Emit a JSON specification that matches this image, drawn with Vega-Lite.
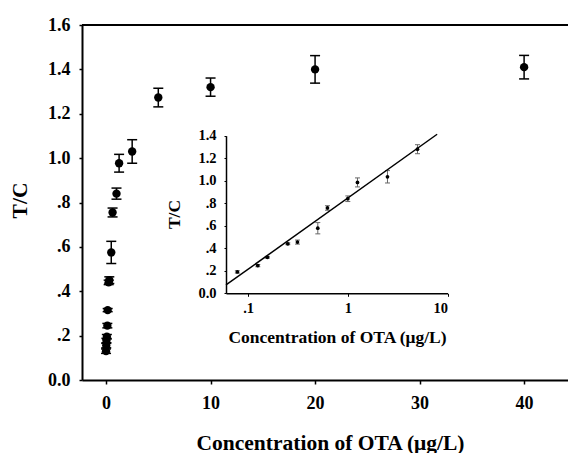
{
  "$schema": "https://vega.github.io/schema/vega-lite/v6.json",
  "width": 486,
  "height": 355,
  "autosize": {"type": "none"},
  "padding": {"left": 82, "top": 25, "right": 0, "bottom": 73},
  "background": "white",
  "config": {
    "view": {"stroke": null},
    "font": "Liberation Serif",
    "axis": {"grid": false, "domainColor": "black", "tickColor": "black", "labelColor": "black", "titleColor": "black", "labelFontWeight": "bold", "titleFontWeight": "bold", "labelFont": "Liberation Serif", "titleFont": "Liberation Serif"}
  },
  "datasets": {
    "main": [
      {"conc": 0, "tc": 0.13, "lo": 0.12, "hi": 0.14},
      {"conc": 0.0195, "tc": 0.155, "lo": 0.145, "hi": 0.165},
      {"conc": 0.039, "tc": 0.178, "lo": 0.168, "hi": 0.188},
      {"conc": 0.078, "tc": 0.195, "lo": 0.185, "hi": 0.205},
      {"conc": 0.125, "tc": 0.245, "lo": 0.235, "hi": 0.255},
      {"conc": 0.156, "tc": 0.315, "lo": 0.308, "hi": 0.322},
      {"conc": 0.25, "tc": 0.44, "lo": 0.43, "hi": 0.45},
      {"conc": 0.3125, "tc": 0.45, "lo": 0.435, "hi": 0.465},
      {"conc": 0.5, "tc": 0.575, "lo": 0.525, "hi": 0.625},
      {"conc": 0.625, "tc": 0.755, "lo": 0.735, "hi": 0.775},
      {"conc": 1, "tc": 0.84, "lo": 0.815, "hi": 0.865},
      {"conc": 1.25, "tc": 0.977, "lo": 0.937, "hi": 1.017},
      {"conc": 2.5, "tc": 1.03, "lo": 0.977, "hi": 1.083},
      {"conc": 5, "tc": 1.273, "lo": 1.231, "hi": 1.315},
      {"conc": 10, "tc": 1.32, "lo": 1.279, "hi": 1.361},
      {"conc": 20, "tc": 1.4, "lo": 1.338, "hi": 1.462},
      {"conc": 40, "tc": 1.41, "lo": 1.357, "hi": 1.463}
    ],
    "inset": [
      {"conc": 0.078, "tc": 0.19, "lo": 0.18, "hi": 0.2},
      {"conc": 0.125, "tc": 0.246, "lo": 0.236, "hi": 0.256},
      {"conc": 0.156, "tc": 0.32, "lo": 0.312, "hi": 0.328},
      {"conc": 0.25, "tc": 0.44, "lo": 0.432, "hi": 0.448},
      {"conc": 0.3125, "tc": 0.455, "lo": 0.437, "hi": 0.473},
      {"conc": 0.5, "tc": 0.578, "lo": 0.528, "hi": 0.628},
      {"conc": 0.625, "tc": 0.758, "lo": 0.738, "hi": 0.778},
      {"conc": 1, "tc": 0.84, "lo": 0.815, "hi": 0.865},
      {"conc": 1.25, "tc": 0.985, "lo": 0.945, "hi": 1.025},
      {"conc": 2.5, "tc": 1.035, "lo": 0.98, "hi": 1.09},
      {"conc": 5, "tc": 1.28, "lo": 1.24, "hi": 1.32}
    ],
    "fit": [
      {"conc": 0.06, "tc": 0.074},
      {"conc": 7.87, "tc": 1.413}
    ]
  },
  "layer": [
    {
      "data": {"name": "main"},
      "encoding": {
        "x": {
          "field": "conc", "type": "quantitative",
          "scale": {"domain": [-2.3, 44.2], "nice": false, "zero": false},
          "axis": {
            "orient": "bottom", "values": [0, 10, 20, 30, 40], "domainWidth": 2, "tickSize": 4, "tickWidth": 1.5,
            "labelFontSize": 18, "labelPadding": 10,
            "title": "Concentration of OTA (μg/L)", "titleFontSize": 21.5,
            "titleX": 248, "titleY": 69, "titleAlign": "center", "titleBaseline": "alphabetic"
          }
        },
        "y": {
          "field": "tc", "type": "quantitative",
          "scale": {"domain": [0, 1.6], "nice": false},
          "axis": {
            "orient": "left", "values": [0, 0.2, 0.4, 0.6, 0.8, 1.0, 1.2, 1.4, 1.6], "domainWidth": 2, "tickSize": 3, "tickWidth": 1.5,
            "labelFontSize": 18, "labelPadding": 9,
            "labelExpr": "datum.value == 0 ? '0.0' : (datum.value < 1 ? replace(format(datum.value, '.1f'), '0.', '.') : format(datum.value, '.1f'))",
            "title": "T/C", "titleFontSize": 21.5, "titleAngle": -90,
            "titleX": -62, "titleY": 175, "titleAlign": "center", "titleBaseline": "middle"
          }
        }
      },
      "layer": [
        {"mark": {"type": "rule", "color": "black", "strokeWidth": 1.5}, "encoding": {"y": {"field": "lo", "type": "quantitative"}, "y2": {"field": "hi"}}},
        {"mark": {"type": "tick", "orient": "horizontal", "color": "black", "size": 10, "thickness": 1.5, "opacity": 1}, "encoding": {"y": {"field": "lo", "type": "quantitative"}}},
        {"mark": {"type": "tick", "orient": "horizontal", "color": "black", "size": 10, "thickness": 1.5, "opacity": 1}, "encoding": {"y": {"field": "hi", "type": "quantitative"}}},
        {"mark": {"type": "circle", "color": "black", "size": 70, "opacity": 1}},
        {"mark": {"type": "rule", "color": "black", "strokeWidth": 2}, "encoding": {"x": null, "y": {"datum": 1.6, "type": "quantitative"}}}
      ]
    },
    {
      "layer": [
        {
          "data": {"name": "inset"},
          "encoding": {
            "x": {
              "field": "conc", "type": "quantitative",
              "scale": {"type": "log", "domain": [0.06, 10], "range": [144, 365.5], "nice": false},
              "axis": {
                "orient": "bottom", "offset": -86.7, "values": [0.1, 1, 10], "domainWidth": 1.5, "tickSize": 3, "tickWidth": 1,
                "labelFontSize": 14.5, "labelPadding": 5,
                "labelExpr": "datum.value < 0.5 ? '.1' : (datum.value < 5 ? '1' : '10')",
                "title": "Concentration of OTA (μg/L)", "titleFontSize": 17.5,
                "titleX": 255, "titleY": 49, "titleAlign": "center", "titleBaseline": "alphabetic"
              }
            },
            "y": {
              "field": "tc", "type": "quantitative",
              "scale": {"domain": [0, 1.4], "range": [268.3, 110.7], "nice": false},
              "axis": {
                "orient": "left", "offset": -144, "values": [0, 0.2, 0.4, 0.6, 0.8, 1.0, 1.2, 1.4], "domainWidth": 1.5, "tickSize": 2, "tickWidth": 1,
                "labelFontSize": 14.5, "labelPadding": 8,
                "labelExpr": "datum.value == 0 ? '0.0' : (datum.value < 1 ? replace(format(datum.value, '.1f'), '0.', '.') : format(datum.value, '.1f'))",
                "title": "T/C", "titleFontSize": 17.5, "titleAngle": -90,
                "titleX": -52, "titleY": 189, "titleAlign": "center", "titleBaseline": "middle"
              }
            }
          },
          "layer": [
            {"mark": {"type": "rule", "color": "#666666", "strokeWidth": 1}, "encoding": {"y": {"field": "lo", "type": "quantitative"}, "y2": {"field": "hi"}}},
            {"mark": {"type": "tick", "orient": "horizontal", "color": "#666666", "size": 5, "thickness": 1, "opacity": 1}, "encoding": {"y": {"field": "lo", "type": "quantitative"}}},
            {"mark": {"type": "tick", "orient": "horizontal", "color": "#666666", "size": 5, "thickness": 1, "opacity": 1}, "encoding": {"y": {"field": "hi", "type": "quantitative"}}},
            {"mark": {"type": "circle", "color": "black", "size": 14, "opacity": 1}}
          ]
        },
        {
          "data": {"name": "fit"},
          "mark": {"type": "line", "color": "black", "strokeWidth": 1.5},
          "encoding": {
            "x": {"field": "conc", "type": "quantitative"},
            "y": {"field": "tc", "type": "quantitative"}
          }
        }
      ]
    }
  ],
  "resolve": {"scale": {"x": "independent", "y": "independent"}, "axis": {"x": "independent", "y": "independent"}}
}
